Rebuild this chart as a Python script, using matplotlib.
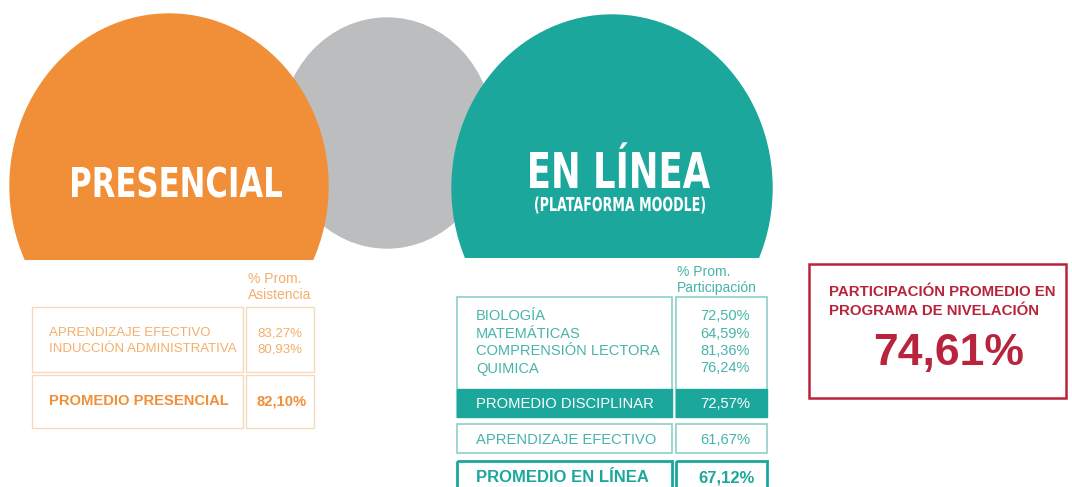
import matplotlib
matplotlib.use("Agg")
import matplotlib.pyplot as plt
from matplotlib.patches import Ellipse, Rectangle, PathPatch
from matplotlib.textpath import TextPath
from matplotlib.font_manager import FontProperties
from matplotlib.transforms import Affine2D

# --- data ---
presencial_labels = ["APRENDIZAJE EFECTIVO", "INDUCCIÓN ADMINISTRATIVA"]
presencial_values = [83.27, 80.93]
presencial_avg = 82.10

online_subjects = ["BIOLOGÍA", "MATEMÁTICAS", "COMPRENSIÓN LECTORA", "QUIMICA"]
online_values = [72.50, 64.59, 81.36, 76.24]
disciplinar_avg = 72.57
online_extra_label = "APRENDIZAJE EFECTIVO"
online_extra_value = 61.67
online_avg = 67.12
total_avg = 74.61

ORANGE = "#F18F38"
ORANGE_TXT = "#F4AE6A"
ORANGE_LINE = "#F7D9BC"
GRAY = "#BCBDBF"
TEAL = "#1BA79C"
TEAL_TXT = "#46B4AA"
TEAL_LINE = "#8CD1CA"
RED = "#B8243B"

SANS = ["Liberation Sans", "DejaVu Sans"]
BOLD_PROP = FontProperties(family="DejaVu Sans", weight="bold")


def pct(v):
    return ("%.2f%%" % v).replace(".", ",")


fig = plt.figure(figsize=(10.72, 4.87), dpi=100)
ax = fig.add_axes([0, 0, 1, 1])
ax.set_xlim(0, 1072)
ax.set_ylim(487, 0)
ax.axis("off")


def squeezed_title(s, x0, x1, baseline, cap):
    # condensed headline: bold text path stretched to fit a box
    path = TextPath((0, 0), s, size=50, prop=BOLD_PROP)
    cap_h = TextPath((0, 0), "E", size=50, prop=BOLD_PROP).get_extents().height
    ext = path.get_extents()
    sx = (x1 - x0) / ext.width
    sy = cap / cap_h
    tr = Affine2D().translate(-ext.x0, 0).scale(sx, -sy).translate(x0, baseline)
    ax.add_patch(PathPatch(path, transform=tr + ax.transData, facecolor="white",
                           edgecolor="none", zorder=3))


# circles
ax.add_patch(Ellipse((387, 133), 212, 230, color=GRAY, zorder=1))
orange = Ellipse((169, 186), 318, 344, color=ORANGE, zorder=2)
ax.add_patch(orange)
orange.set_clip_path(Rectangle((0, 0), 1072, 260, transform=ax.transData))
teal = Ellipse((612, 188), 320, 346, color=TEAL, zorder=2)
ax.add_patch(teal)
teal.set_clip_path(Rectangle((0, 0), 1072, 258, transform=ax.transData))

squeezed_title("PRESENCIAL", 72, 282, 197, 30)
squeezed_title("EN LÍNEA", 530, 710, 188, 36)
squeezed_title("(PLATAFORMA MOODLE)", 535, 705, 211, 14)


def box(x0, x1, y0, y1, color, lw=1.0, fill=None):
    ax.add_patch(Rectangle((x0, y0), x1 - x0, y1 - y0, facecolor=fill or "none",
                           edgecolor=color, lw=lw, zorder=3))


# presencial table
ax.text(248, 279, "% Prom.", color=ORANGE_TXT, fontsize=10, family=SANS, va="center")
ax.text(248, 295, "Asistencia", color=ORANGE_TXT, fontsize=10, family=SANS, va="center")
box(32, 243, 307, 372, ORANGE_LINE)
box(246, 314, 307, 372, ORANGE_LINE)
box(32, 243, 375, 428, ORANGE_LINE)
box(246, 314, 375, 428, ORANGE_LINE)
for i, (lab, val) in enumerate(zip(presencial_labels, presencial_values)):
    y = 333 + i * 16
    ax.text(49, y, lab, color=ORANGE_TXT, fontsize=9.5, family=SANS, va="center", zorder=4)
    ax.text(280, y, pct(val), color=ORANGE_TXT, fontsize=9.5, family=SANS,
            ha="center", va="center", zorder=4)
ax.text(49, 401, "PROMEDIO PRESENCIAL", color=ORANGE, fontsize=10.6, fontweight="bold",
        family=SANS, va="center", zorder=4)
ax.text(282, 401, pct(presencial_avg), color=ORANGE, fontsize=10.6, fontweight="bold",
        family=SANS, ha="center", va="center", zorder=4)

# en linea table
ax.text(677, 272, "% Prom.", color=TEAL_TXT, fontsize=10, family=SANS, va="center")
ax.text(677, 288, "Participación", color=TEAL_TXT, fontsize=10, family=SANS, va="center")
box(457, 672, 297, 417, TEAL_LINE, lw=1.2)
box(676, 767, 297, 417, TEAL_LINE, lw=1.2)
box(457, 672, 389, 417, TEAL, fill=TEAL)
box(676, 767, 389, 417, TEAL, fill=TEAL)
for i, (lab, val) in enumerate(zip(online_subjects, online_values)):
    y = 316 + i * 17.5
    ax.text(476, y, lab, color=TEAL_TXT, fontsize=10.5, family=SANS, va="center", zorder=4)
    ax.text(750, y, pct(val), color=TEAL_TXT, fontsize=10.5, family=SANS,
            ha="right", va="center", zorder=4)
ax.text(476, 404, "PROMEDIO DISCIPLINAR", color="white", fontsize=10.6, family=SANS,
        va="center", zorder=4)
ax.text(750, 404, pct(disciplinar_avg), color="white", fontsize=10.6, family=SANS,
        ha="right", va="center", zorder=4)

box(457, 672, 424, 453, TEAL_LINE, lw=1.2)
box(676, 767, 424, 453, TEAL_LINE, lw=1.2)
ax.text(476, 440, online_extra_label, color=TEAL_TXT, fontsize=10.6, family=SANS,
        va="center", zorder=4)
ax.text(750, 440, pct(online_extra_value), color=TEAL_TXT, fontsize=10.6, family=SANS,
        ha="right", va="center", zorder=4)

box(457, 672, 461, 495, TEAL, lw=2)
box(676, 767, 461, 495, TEAL, lw=2)
ax.text(476, 478, "PROMEDIO EN LÍNEA", color=TEAL, fontsize=12, fontweight="bold",
        family=SANS, va="center", zorder=4)
ax.text(755, 478, pct(online_avg), color=TEAL, fontsize=12, fontweight="bold",
        family=SANS, ha="right", va="center", zorder=4)

# total box
box(809, 1066, 264, 398, RED, lw=1.8)
ax.text(829, 292, "PARTICIPACIÓN PROMEDIO EN", color=RED, fontsize=10.8, fontweight="bold",
        family=SANS, va="center", zorder=4)
ax.text(829, 311, "PROGRAMA DE NIVELACIÓN", color=RED, fontsize=10.8, fontweight="bold",
        family=SANS, va="center", zorder=4)
ax.text(949, 353, pct(total_avg), color=RED, fontsize=32, fontweight="bold",
        family=SANS, ha="center", va="center", zorder=4)

fig.savefig("out.png", dpi=100, facecolor="white")
